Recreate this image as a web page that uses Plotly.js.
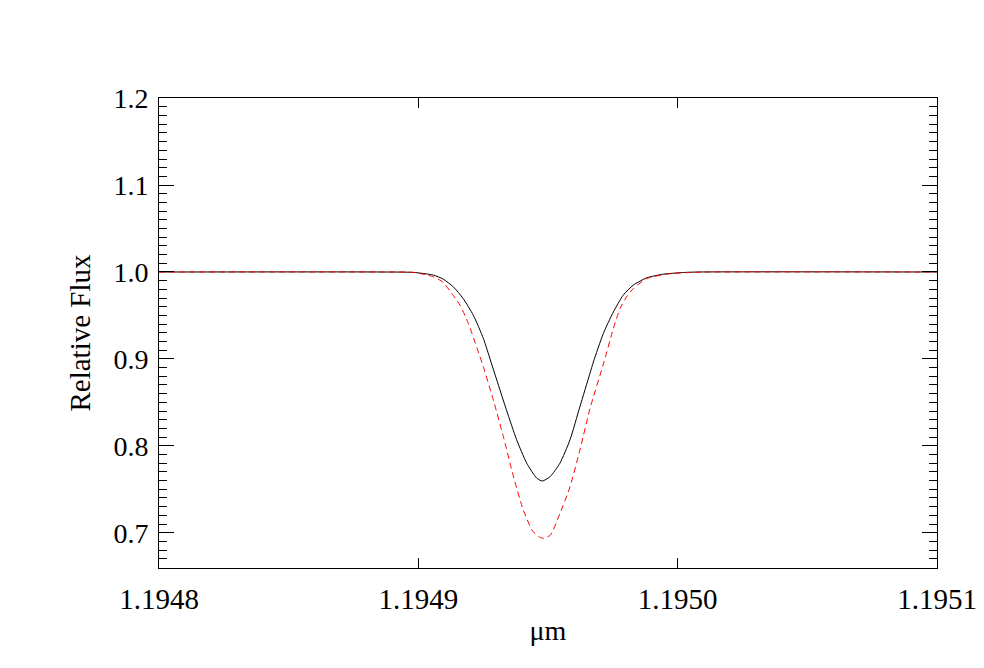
<!DOCTYPE html>
<html>
<head>
<meta charset="utf-8">
<script src="https://cdn.plot.ly/plotly-3.0.1.min.js"></script>
<style>
  html, body { margin: 0; padding: 0; background: #fff; }
  #chart { width: 984px; height: 668px; }
</style>
</head>
<body>
<div id="chart"></div>
<script>
// wavelengths (micron) and relative flux
var waveBlack = [1.1948, 1.1948852, 1.1948981, 1.1949058, 1.1949096, 1.1949135, 1.1949173,
  1.1949212, 1.1949251, 1.1949279, 1.1949340, 1.1949379, 1.1949418, 1.1949456,
  1.1949478, 1.1949508, 1.1949546, 1.1949585, 1.1949623, 1.1949662, 1.1949675, 1.1949713,
  1.1949752, 1.1949790, 1.1949829, 1.1949881, 1.1949945, 1.1950022, 1.1950086, 1.1951];
var fluxBlack = [1.0, 1.0, 0.9995, 0.9964, 0.9918, 0.9829, 0.9694,
  0.9503, 0.9234, 0.8975, 0.841, 0.807, 0.780, 0.763,
  0.7595, 0.7645, 0.780, 0.807, 0.845, 0.8835, 0.8965, 0.929,
  0.954, 0.9733, 0.9849, 0.9933, 0.9975, 0.9994, 1.0, 1.0];

var waveRed = [1.1948, 1.1948852, 1.1948981, 1.1949058, 1.1949096, 1.1949129, 1.1949161,
  1.1949193, 1.1949227, 1.1949250, 1.1949289, 1.1949328, 1.1949366, 1.1949405, 1.1949443,
  1.1949478, 1.1949508, 1.1949546, 1.1949585, 1.1949623, 1.1949662, 1.1949716, 1.1949752,
  1.1949778, 1.1949803, 1.1949829, 1.1949881, 1.1949958, 1.1950047, 1.1950120, 1.1951];
var fluxRed = [1.0, 1.0, 0.9995, 0.9945, 0.988, 0.9752, 0.9618,
  0.9406, 0.9119, 0.8915, 0.853, 0.8105, 0.7655, 0.726, 0.701,
  0.6936, 0.697, 0.722, 0.753, 0.795, 0.843, 0.8965, 0.935,
  0.958, 0.9714, 0.981, 0.9925, 0.9975, 0.9995, 1.0, 1.0];

var xTicks = [1.1948, 1.1949, 1.1950, 1.1951];
var xTickText = ["1.1948", "1.1949", "1.1950", "1.1951"];

var serif = "Liberation Serif, Times New Roman, serif";

var black = {type: "scatter", mode: "lines", x: waveBlack, y: fluxBlack,
  line: {color: "#000000", width: 1, shape: "spline", smoothing: 0.6},
  hoverinfo: "skip"};

var red = {type: "scatter", mode: "lines", x: waveRed, y: fluxRed,
  line: {color: "#ff0000", width: 1, dash: "6px,4px", shape: "spline", smoothing: 0.6},
  hoverinfo: "skip"};

var layout = {
  width: 984, height: 668,
  margin: {l: 159, r: 47, t: 98, b: 100},
  paper_bgcolor: "#ffffff", plot_bgcolor: "#ffffff",
  showlegend: false,
  font: {family: serif, size: 28, color: "#000000"},
  xaxis: {
    range: [1.1948, 1.1951],
    tickvals: xTicks, ticktext: xTickText,
    ticks: "inside", ticklen: 10, tickwidth: 1, tickcolor: "#000000",
    showline: true, linecolor: "#000000", linewidth: 1, mirror: "allticks",
    showgrid: false, zeroline: false,
    ticklabelstandoff: 5,
    tickfont: {family: serif, size: 29},
    title: {text: "\u03bcm", font: {family: serif, size: 28}, standoff: 6}
  },
  yaxis: {
    range: [0.6594, 1.2002],
    tick0: 0.7, dtick: 0.1, tickformat: ".1f",
    ticks: "inside", ticklen: 15, tickwidth: 1, tickcolor: "#000000",
    minor: {dtick: 0.01, tick0: 0.7, ticks: "inside", ticklen: 8, tickwidth: 1, tickcolor: "#000000", showgrid: false},
    showline: true, linecolor: "#000000", linewidth: 1, mirror: "allticks",
    showgrid: false, zeroline: false,
    ticklabelstandoff: 4,
    tickfont: {family: serif, size: 28},
    title: {text: "Relative Flux", font: {family: serif, size: 29}, standoff: 14}
  }
};

Plotly.newPlot("chart", [black, red], layout, {staticPlot: true, displayModeBar: false});
</script>
</body>
</html>
